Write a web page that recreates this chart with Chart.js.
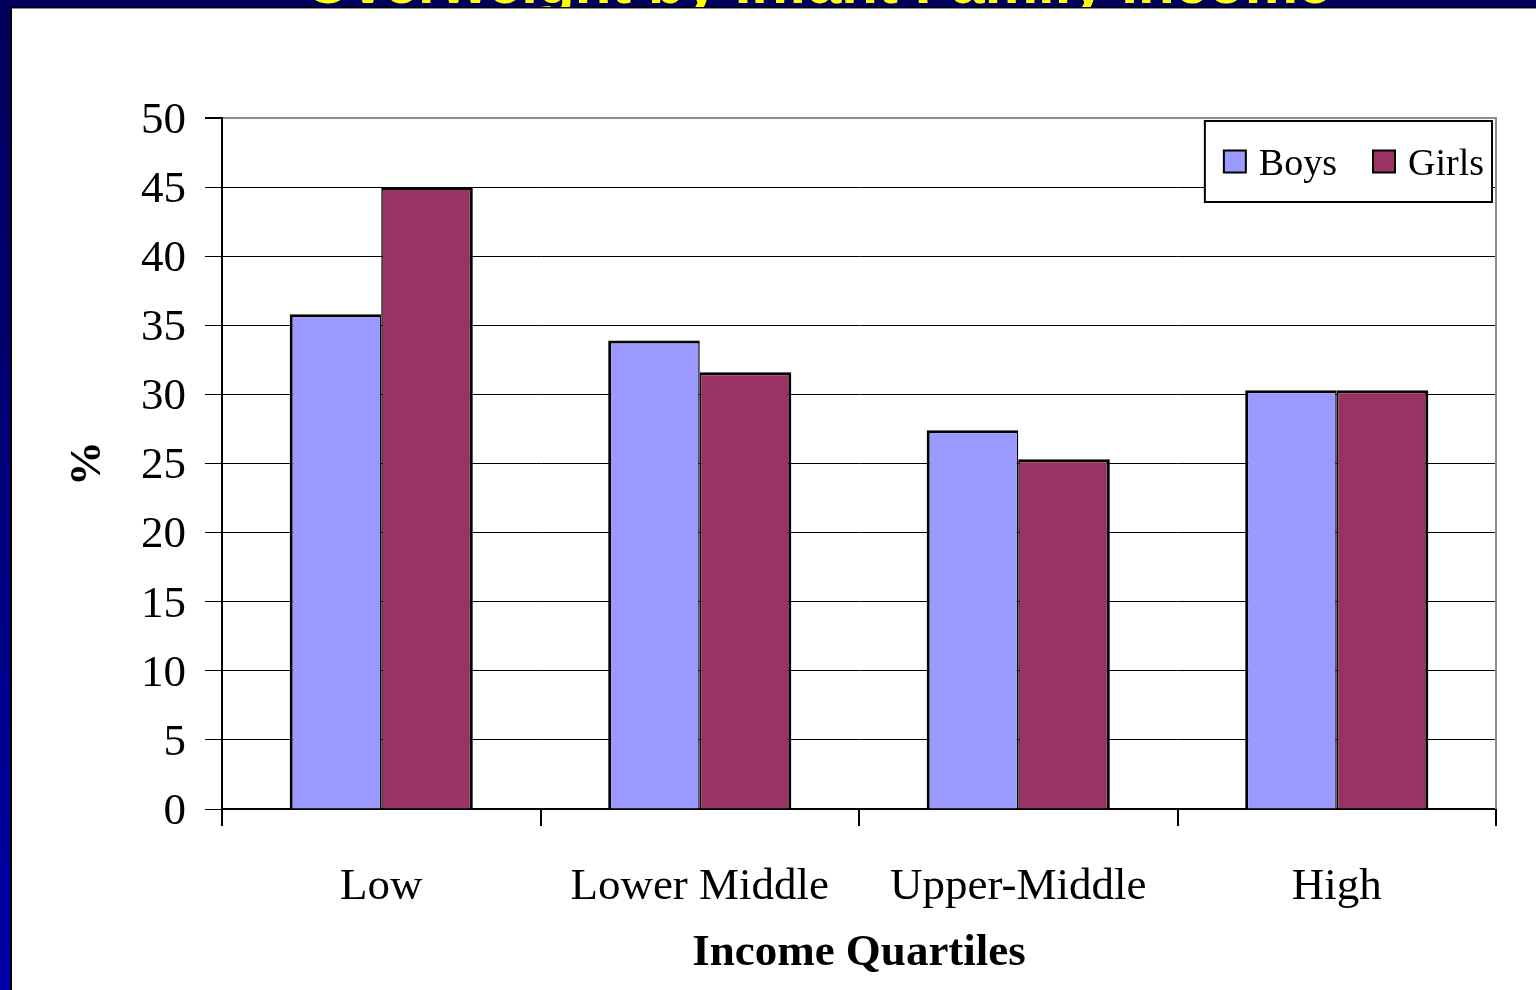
<!DOCTYPE html>
<html>
<head>
<meta charset="utf-8">
<title>Income Quartiles</title>
<script src="https://cdn.jsdelivr.net/npm/chart.js@4/dist/chart.umd.min.js"></script>
<style>
  html, body { margin: 0; padding: 0; }
  body {
    width: 1536px; height: 990px; overflow: hidden; position: relative;
    background: linear-gradient(#00005a, #000070 35%, #0000a6);
  }
  #heading {
    position: absolute; left: 0; width: 1636px; top: -52px; height: 60px;
    line-height: 60px; text-align: center; white-space: nowrap;
    font: bold 60px "Liberation Sans", Arial, sans-serif; color: #ffff00;
  }
  #panel {
    position: absolute; left: 10px; top: 7px; right: 0; bottom: 0;
    background: #fff; border-left: 2px solid #000; border-top: 1px solid #000;
    box-shadow: inset 0 1px 0 #8c8c8c;
  }
  #chart { position: absolute; left: 0; top: 0; }
</style>
</head>
<body>
<div id="heading">Overweight by Infant Family Income</div>
<div id="panel"></div>
<canvas id="chart" width="1536" height="990"></canvas>
<script>
// Share (%) by income quartile, boys vs girls
const categories = ['Low', 'Lower Middle', 'Upper-Middle', 'High'];
const boys  = [35.8, 33.9, 27.4, 30.3];
const girls = [45.0, 31.6, 25.3, 30.3];
const yMin = 0, yMax = 50, yStep = 5;

const SERIF = '"Liberation Serif", "Times New Roman", serif';

// Gray frame on the right side of the plot
const plotFrame = {
  id: 'plotFrame',
  afterDatasetsDraw(chart) {
    const { ctx, chartArea: a } = chart;
    ctx.save();
    ctx.strokeStyle = '#8c8c8c';
    ctx.lineWidth = 2;
    ctx.beginPath();
    ctx.moveTo(a.right, a.top - 1);
    ctx.lineTo(a.right, a.bottom);
    ctx.stroke();
    ctx.restore();
  }
};

// Boxed legend in the upper-right corner of the plot
const boxedLegend = {
  id: 'boxedLegend',
  afterDraw(chart) {
    const { ctx, chartArea: a } = chart;
    ctx.save();
    ctx.font = '38px ' + SERIF;
    const sw = 22, textGap = 13, itemGap = 36, padL = 19, padR = 8, h = 81;
    const items = chart.data.datasets.map(d => ({
      label: d.label, color: d.backgroundColor, w: ctx.measureText(d.label).width
    }));
    let w = padL + padR;
    items.forEach((it, i) => { w += sw + textGap + it.w + (i ? itemGap : 0); });
    const right = a.right - 4, top = a.top + 3, left = right - w;
    ctx.fillStyle = '#fff';
    ctx.fillRect(left, top, w, h);
    ctx.lineWidth = 2;
    ctx.strokeStyle = '#000';
    ctx.strokeRect(left, top, w, h);
    const cy = top + h / 2;
    let x = left + padL;
    items.forEach(it => {
      ctx.fillStyle = it.color;
      ctx.fillRect(x, cy - sw / 2, sw, sw);
      ctx.strokeRect(x, cy - sw / 2, sw, sw);
      ctx.fillStyle = '#000';
      ctx.textBaseline = 'alphabetic';
      ctx.fillText(it.label, x + sw + textGap, cy + 13);
      x += sw + textGap + it.w + itemGap;
    });
    ctx.restore();
  }
};

new Chart(document.getElementById('chart'), {
  type: 'bar',
  data: {
    labels: categories,
    datasets: [
      {
        label: 'Boys', data: boys, backgroundColor: '#9999ff', borderColor: '#000',
        borderWidth: { top: 3, left: 3, right: 1.5, bottom: 0 },
        categoryPercentage: 0.575, barPercentage: 1.0
      },
      {
        label: 'Girls', data: girls, backgroundColor: '#993366', borderColor: '#000',
        borderWidth: { top: 3, left: 1.5, right: 3, bottom: 0 },
        categoryPercentage: 0.575, barPercentage: 1.0
      }
    ]
  },
  options: {
    responsive: false,
    animation: false,
    layout: { padding: { left: 0, right: 40, top: 118, bottom: 0 } },
    plugins: { legend: { display: false }, tooltip: { enabled: false } },
    scales: {
      x: {
        offset: true,
        grid: { display: true, drawOnChartArea: false, drawTicks: true, tickLength: 17, color: '#000', lineWidth: 2, offset: true },
        border: { display: true, color: '#000', width: 2 },
        ticks: { color: '#000', font: { family: SERIF, size: 45 }, padding: 34 },
        title: { display: true, text: 'Income Quartiles', color: '#000', font: { family: SERIF, size: 45, weight: 'bold' }, padding: { top: 0, bottom: 10 } },
        afterFit(scale) { scale.height = 181; }
      },
      y: {
        min: yMin, max: yMax,
        grid: {
          color: c => (c.tick && c.tick.value === yMax ? '#8c8c8c' : '#000'),
          lineWidth: c => (c.tick && c.tick.value === yMax ? 2 : 1),
          tickColor: '#000', tickLength: 17, drawTicks: true
        },
        border: { display: true, color: '#000', width: 2 },
        ticks: { stepSize: yStep, color: '#000', font: { family: SERIF, size: 45 }, padding: 19, labelOffset: 3 },
        title: { display: true, text: '%', color: '#000', font: { family: SERIF, size: 45, weight: 'bold' }, padding: { top: 61, bottom: 0 } },
        afterFit(scale) { scale.width = 222; }
      }
    }
  },
  plugins: [plotFrame, boxedLegend]
});
</script>
</body>
</html>
